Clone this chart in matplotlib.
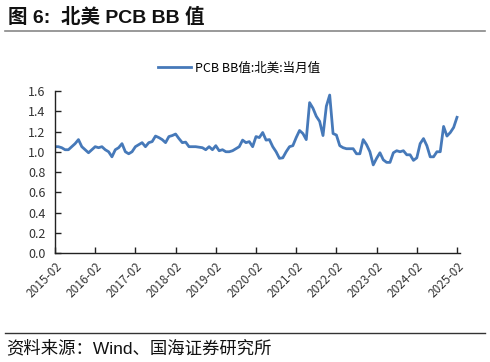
import matplotlib
matplotlib.use("Agg")
import matplotlib.pyplot as plt
import numpy as np
from matplotlib.lines import Line2D

plt.rcParams['font.family'] = ['Noto Sans CJK SC', 'DejaVu Sans']

start_year, start_month = 2015, 2
values = [
    1.05, 1.05, 1.04, 1.02, 1.02, 1.05, 1.08, 1.12, 1.05, 1.02, 0.99, 1.02,   # 2015-02..2016-01
    1.05, 1.04, 1.05, 1.02, 1.00, 0.95, 1.02, 1.04, 1.08, 1.00, 0.98, 1.00,   # 2016-02..
    1.05, 1.07, 1.09, 1.05, 1.09, 1.10, 1.155, 1.14, 1.12, 1.09, 1.15, 1.16,  # 2017-02..
    1.175, 1.13, 1.09, 1.095, 1.05, 1.05, 1.05, 1.045, 1.04, 1.02, 1.05, 1.02, # 2018-02..
    1.06, 1.01, 1.02, 1.00, 1.00, 1.01, 1.03, 1.05, 1.115, 1.09, 1.10, 1.05,  # 2019-02..
    1.15, 1.14, 1.19, 1.115, 1.12, 1.05, 1.00, 0.935, 0.94, 1.00, 1.05, 1.06, # 2020-02..
    1.14, 1.21, 1.18, 1.12, 1.485, 1.43, 1.35, 1.30, 1.16, 1.45, 1.56, 1.18,  # 2021-02..
    1.165, 1.06, 1.04, 1.03, 1.03, 1.03, 0.98, 0.98, 1.12, 1.07, 1.00, 0.87,  # 2022-02..
    0.935, 0.99, 0.92, 0.895, 0.895, 0.99, 1.01, 1.00, 1.01, 0.97, 0.97, 0.915, # 2023-02..
    0.94, 1.08, 1.13, 1.06, 0.95, 0.95, 1.00, 1.00, 1.25, 1.155, 1.19, 1.24,  # 2024-02..
    1.34,                                                                      # 2025-02
]
tick_labels = ["2015-02", "2016-02", "2017-02", "2018-02", "2019-02", "2020-02",
               "2021-02", "2022-02", "2023-02", "2024-02", "2025-02"]
y_ticks = [0.0, 0.2, 0.4, 0.6, 0.8, 1.0, 1.2, 1.4, 1.6]
series_name = "PCB BB值:北美:当月值"
title = "图 6:  北美 PCB BB 值"
source = "资料来源：Wind、国海证券研究所"

x = np.arange(len(values))
color = '#4679B9'
latin_first = ['Liberation Sans', 'Noto Sans CJK SC']

fig = plt.figure(figsize=(4.9, 3.62), dpi=100)
ax = fig.add_axes([55/490, 1-253/362, (460-55)/490, (253-91)/362])
ax.plot(x, values, color=color, lw=2.0, solid_joinstyle='round')
ax.set_xlim(0, 120 * 405 / 402)
ax.set_ylim(0, 1.6)
ax.set_yticks(y_ticks)
ax.set_yticklabels([f"{v:.1f}" for v in y_ticks], fontsize=9, color='#333333')
ax.set_xticks(np.arange(0, 121, 12))
ax.set_xticklabels(tick_labels, rotation=45, ha='right', rotation_mode='anchor',
                   fontsize=8.5, color='#333333')
for s in ['top', 'right']:
    ax.spines[s].set_visible(False)
for s in ['left', 'bottom']:
    ax.spines[s].set_color('#222222')
    ax.spines[s].set_linewidth(1.0)
ax.tick_params(direction='in', length=4, width=1, color='#222222')
ax.tick_params(axis='y', pad=7)
ax.tick_params(axis='x', pad=5)

handle = Line2D([], [], color=color, lw=2.0)
fig.legend([handle], [series_name], loc='center', bbox_to_anchor=(239/490, 1-68/362),
           frameon=False, fontsize=9, handlelength=2.6, handletextpad=0.3)

fig.text(8/490, 1-17/362, title, fontsize=14, fontweight='bold', va='center', ha='left',
         color='#111111', family=latin_first)
fig.add_artist(Line2D([5/490, 485/490], [1-31/362, 1-31/362], color='#888888', lw=1.2))
fig.add_artist(Line2D([5/490, 485/490], [1-333/362, 1-333/362], color='#333333', lw=1.0))
fig.text(6/490, 1-348/362, source, fontsize=12.5, va='center', ha='left', color='#111111',
         family=latin_first)

fig.savefig("out.png", dpi=100)
